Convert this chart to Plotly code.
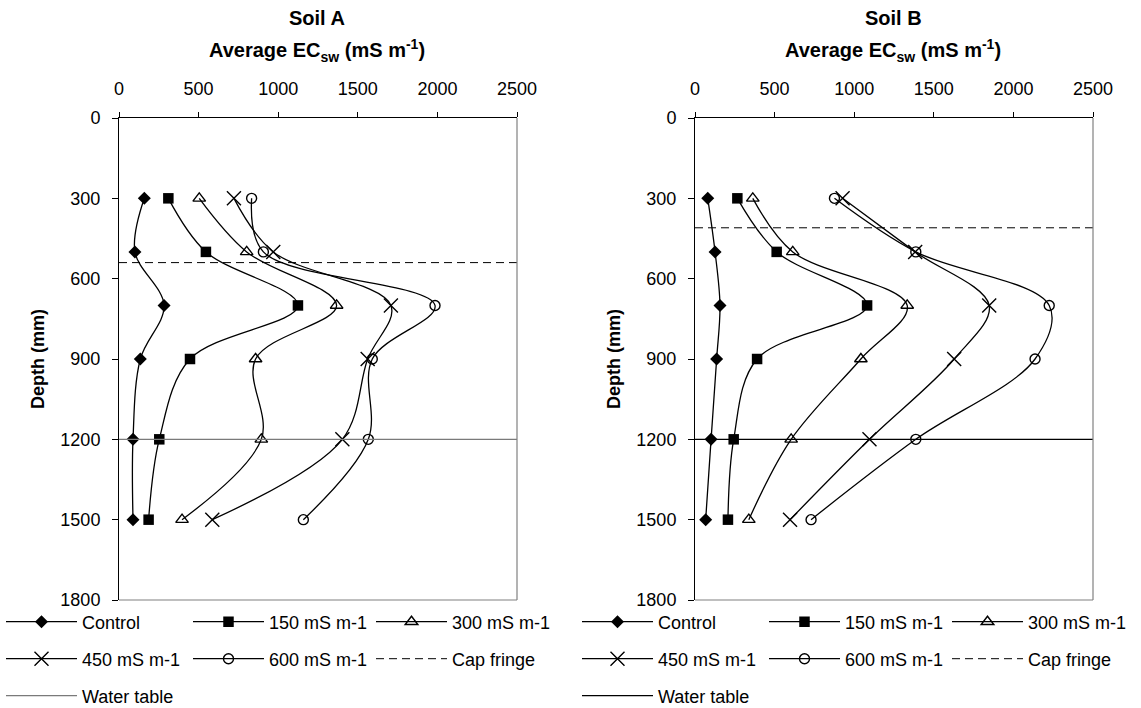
import plotly.graph_objects as go

# Sampling depths (mm) shared by every treatment profile
depth = [300, 500, 700, 900, 1200, 1500]

# Average EC of soil water (mS m-1), Soil A
a_control = [159, 100, 283, 134, 88, 88]
a_150 = [310, 546, 1124, 446, 253, 186]
a_300 = [504, 802, 1367, 858, 894, 396]
a_450 = [722, 969, 1708, 1562, 1403, 586]
a_600 = [833, 907, 1985, 1591, 1566, 1158]

# Average EC of soil water (mS m-1), Soil B
b_control = [80, 126, 157, 136, 101, 67]
b_150 = [266, 513, 1081, 390, 243, 207]
b_300 = [363, 614, 1333, 1042, 604, 338]
b_450 = [927, 1383, 1848, 1628, 1096, 597]
b_600 = [876, 1387, 2225, 2136, 1387, 729]

# Reference levels (mm)
cap_fringe_a = 540
cap_fringe_b = 410
water_table = 1200
ec_span = [0, 2500]

series_names = ["Control", "150 mS m-1", "300 mS m-1", "450 mS m-1", "600 mS m-1"]
x_ticks = [0, 500, 1000, 1500, 2000, 2500]
y_ticks = [0, 300, 600, 900, 1200, 1500, 1800]

W, H = 1141, 708
FONT = "Liberation Sans, Arial, sans-serif"

marker_styles = [
    dict(symbol="diamond", size=10, color="black"),
    dict(symbol="square", size=10.5, color="black"),
    dict(symbol="triangle-up-open", size=11, color="black", line=dict(width=1.4, color="black")),
    dict(symbol="x-thin-open", size=14, color="black", line=dict(width=1.4, color="black")),
    dict(symbol="circle-open", size=10, color="black", line=dict(width=1.4, color="black")),
]

# legend cell (column, row) for each entry: 5 series, cap fringe, water table
legend_cells = [(0, 0), (1, 0), (2, 0), (0, 1), (1, 1), (2, 1), (0, 2)]
legend_col_px = [1, 188, 371]
legend_row_px = [622, 659, 696]
panel_shift_px = 576

fig = go.Figure()
layout_legends = {}
legend_counter = [0]


def next_legend(panel, cell):
    legend_counter[0] += 1
    n = legend_counter[0]
    key = "legend" if n == 1 else f"legend{n}"
    col, row = cell
    px = legend_col_px[col] + panel * panel_shift_px
    py = legend_row_px[row]
    layout_legends[key] = dict(
        xref="container", yref="container",
        x=px / W, y=1 - py / H, xanchor="left", yanchor="middle",
        bgcolor="rgba(0,0,0,0)", borderwidth=0, itemwidth=71,
        font=dict(family=FONT, size=18, color="black"),
        orientation="v",
    )
    return key


panels = [
    ("x", "y", [a_control, a_150, a_300, a_450, a_600], cap_fringe_a, "#7a7a7a"),
    ("x2", "y2", [b_control, b_150, b_300, b_450, b_600], cap_fringe_b, "black"),
]

for p, (xa, ya, profiles, cap, wt_color) in enumerate(panels):
    for i, (name, vals) in enumerate(zip(series_names, profiles)):
        fig.add_trace(go.Scatter(
            x=vals, y=depth, name=name, mode="lines+markers",
            line=dict(color="black", width=1.3, shape="spline", smoothing=1),
            marker=marker_styles[i], xaxis=xa, yaxis=ya,
            legend=next_legend(p, legend_cells[i]),
        ))
    fig.add_trace(go.Scatter(
        x=ec_span, y=[cap, cap], name="Cap fringe", mode="lines",
        line=dict(color="black", width=1, dash="8px,5px"),
        xaxis=xa, yaxis=ya, legend=next_legend(p, legend_cells[5]),
    ))
    fig.add_trace(go.Scatter(
        x=ec_span, y=[water_table, water_table], name="Water table", mode="lines",
        line=dict(color=wt_color, width=1.2),
        xaxis=xa, yaxis=ya, legend=next_legend(p, legend_cells[6]),
    ))

# plot area in pixels
L, R, T, B = 119, 48, 118, 108
pw = W - L - R
ph = H - T - B
dom_a = [0, (517 - L) / pw]
dom_b = [(695 - L) / pw, 1]

axis_font = dict(family=FONT, size=18, color="black")
xcommon = dict(
    range=[0, 2500], tickvals=x_ticks, side="top", ticks="outside", ticklen=5,
    tickcolor="black", showline=True, linecolor="black", linewidth=1,
    showgrid=False, zeroline=False, tickfont=axis_font, ticklabelstandoff=10,
    fixedrange=True,
)
ycommon = dict(
    range=[1800, 0], tickvals=y_ticks, ticks="outside", ticklen=6,
    tickcolor="black", showline=True, linecolor="black", linewidth=1,
    showgrid=False, zeroline=False, tickfont=axis_font, ticklabelstandoff=8,
    fixedrange=True,
)

fig.update_layout(
    xaxis=dict(domain=dom_a, anchor="y", **xcommon),
    yaxis=dict(domain=[0, 1], anchor="x", **ycommon),
    xaxis2=dict(domain=dom_b, anchor="y2", **xcommon),
    yaxis2=dict(domain=[0, 1], anchor="x2", **ycommon),
    width=W, height=H,
    margin=dict(l=L, r=R, t=T, b=B, autoexpand=False),
    paper_bgcolor="white", plot_bgcolor="white",
    font=dict(family=FONT, size=18, color="black"),
    showlegend=True,
    **layout_legends,
)


def px_to_paper_x(px):
    return (px - L) / pw


def px_to_paper_y(py):
    return (H - B - py) / ph


# panel titles, axis titles and grey frame edges
for p, (title, xa, ya) in enumerate([("Soil A", "x", "y"), ("Soil B", "x2", "y2")]):
    cx = 317 + p * panel_shift_px
    fig.add_annotation(
        text=f"<b>{title}</b>", x=px_to_paper_x(cx), y=px_to_paper_y(17.5),
        xref="paper", yref="paper", showarrow=False, xanchor="center", yanchor="middle",
        font=dict(family=FONT, size=20, color="black"),
    )
    fig.add_annotation(
        text="<b>Average EC<sub>sw</sub> (mS m<sup>-1</sup>)</b>",
        x=px_to_paper_x(cx), y=px_to_paper_y(50.5),
        xref="paper", yref="paper", showarrow=False, xanchor="center", yanchor="middle",
        font=dict(family=FONT, size=20, color="black"),
    )
    fig.add_annotation(
        text="<b>Depth (mm)</b>", textangle=-90,
        x=px_to_paper_x(38 + p * panel_shift_px), y=0.5,
        xref="paper", yref="paper", showarrow=False, xanchor="center", yanchor="middle",
        font=dict(family=FONT, size=18, color="black"),
    )
    fig.add_shape(type="line", xref=f"{xa} domain", yref=f"{ya} domain",
                  x0=1, x1=1, y0=0, y1=1, line=dict(color="#808080", width=1.2))
    fig.add_shape(type="line", xref=f"{xa} domain", yref=f"{ya} domain",
                  x0=0, x1=1, y0=0, y1=0, line=dict(color="#808080", width=1.2))

fig.write_html("out.html")
